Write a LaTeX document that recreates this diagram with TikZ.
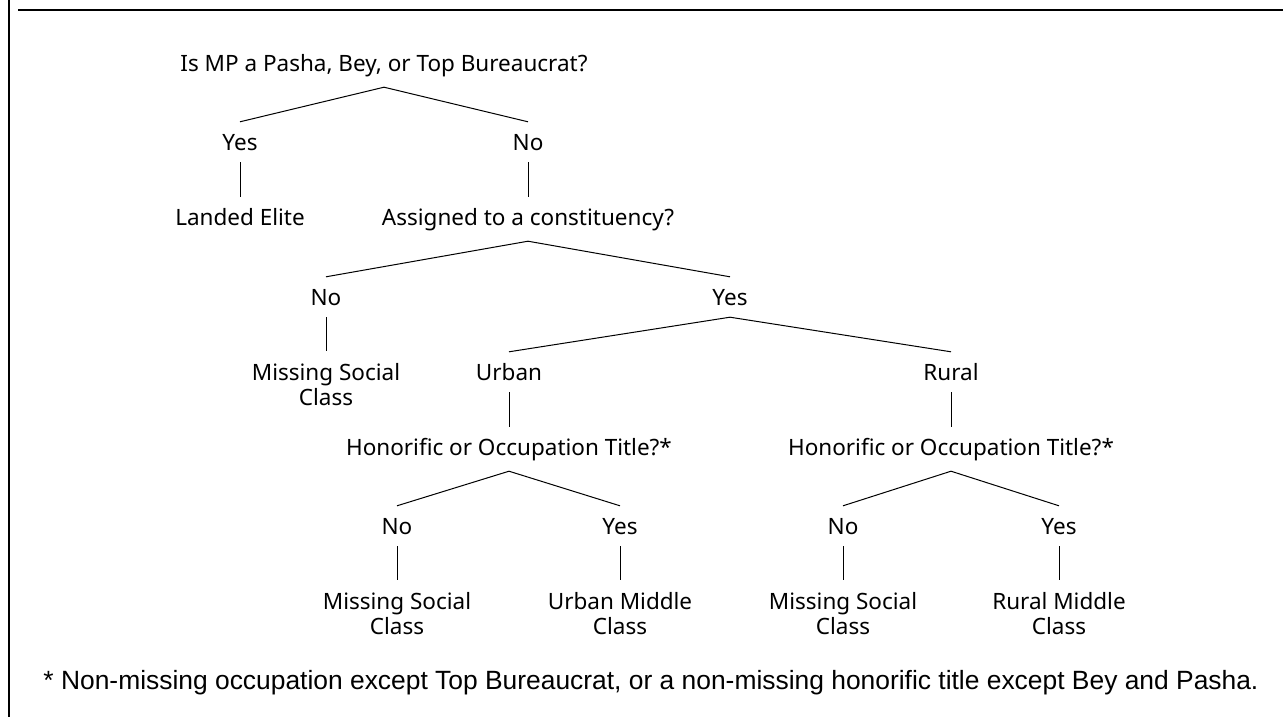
\documentclass[tikz,border=0pt]{standalone}
\usepackage{fontspec}
\setmainfont{Noto Sans}
\newfontfamily\notefont{Liberation Sans}
\usepackage{tikz}

\begin{document}
\begin{tikzpicture}[x=1pt,y=-1pt,
			lbl/.style={font=\fontsize{22.5}{25}\selectfont, inner xsep=0pt, inner ysep=12pt, text height=16pt, text depth=0pt},
			leaf/.style={font=\fontsize{22.5}{25}\selectfont, align=center, inner xsep=0pt, inner ysep=12pt, anchor=north},
			branch/.style={line width=1pt}]
			\useasboundingbox (0,0) rectangle (1287,717);
			% frame
			\draw[line width=1.4pt] (18,10) -- (1283,10);
			\draw[line width=1.2pt] (9,0) -- (9,717);

			\node[lbl] (pasha) at (384,63) {Is MP a Pasha, Bey, or Top Bureaucrat?};
			\node[lbl] (yesA) at (240,142) {Yes};
			\node[lbl] (noA) at (528,142) {No};
			\node[lbl] (elite) at (240,217) {Landed Elite};
			\node[lbl] (assigned) at (528,217) {Assigned to a constituency?};
			\node[lbl] (noB) at (326,297) {No};
			\node[lbl] (yesB) at (730,297) {Yes};
			\node[leaf] (missA) at (326,351) {Missing Social\\Class};
			\node[lbl] (urban) at (509,372) {Urban};
			\node[lbl] (rural) at (951,372) {Rural};
			\node[lbl] (titleU) at (509,447) {Honorific or Occupation Title?*};
			\node[lbl] (titleR) at (951,447) {Honorific or Occupation Title?*};
			\node[lbl] (noC) at (397,526) {No};
			\node[lbl] (yesC) at (620,526) {Yes};
			\node[lbl] (noD) at (843,526) {No};
			\node[lbl] (yesD) at (1059,526) {Yes};
			\node[leaf] (missB) at (397,580) {Missing Social\\Class};
			\node[leaf] (middleU) at (620,580) {Urban Middle\\Class};
			\node[leaf] (missC) at (843,580) {Missing Social\\Class};
			\node[leaf] (middleR) at (1059,580) {Rural Middle\\Class};
			\node[font=\notefont\fontsize{26.4}{30}\selectfont, inner sep=0pt] (note) at (651,683)
				{* Non-missing occupation except Top Bureaucrat, or a non-missing honorific title except Bey and Pasha.};

			% splits
			\draw[branch] (yesA.north) -- ([yshift=-4pt]pasha.south) -- (noA.north);
			\draw[branch] (noB.north) -- ([yshift=-4pt]assigned.south) -- (yesB.north);
			\draw[branch] (urban.north) -- (yesB.south) -- (rural.north);
			\draw[branch] (noC.north) -- ([yshift=-4pt]titleU.south) -- (yesC.north);
			\draw[branch] (noD.north) -- ([yshift=-4pt]titleR.south) -- (yesD.north);

			% single steps
			\draw[branch] (yesA.south) -- (elite.north);
			\draw[branch] (noA.south) -- (assigned.north);
			\draw[branch] (noB.south) -- (missA.north);
			\draw[branch] (urban.south) -- (titleU.north);
			\draw[branch] (rural.south) -- (titleR.north);
			\draw[branch] (noC.south) -- (missB.north);
			\draw[branch] (yesC.south) -- (middleU.north);
			\draw[branch] (noD.south) -- (missC.north);
			\draw[branch] (yesD.south) -- (middleR.north);
		\end{tikzpicture}
\end{document}
